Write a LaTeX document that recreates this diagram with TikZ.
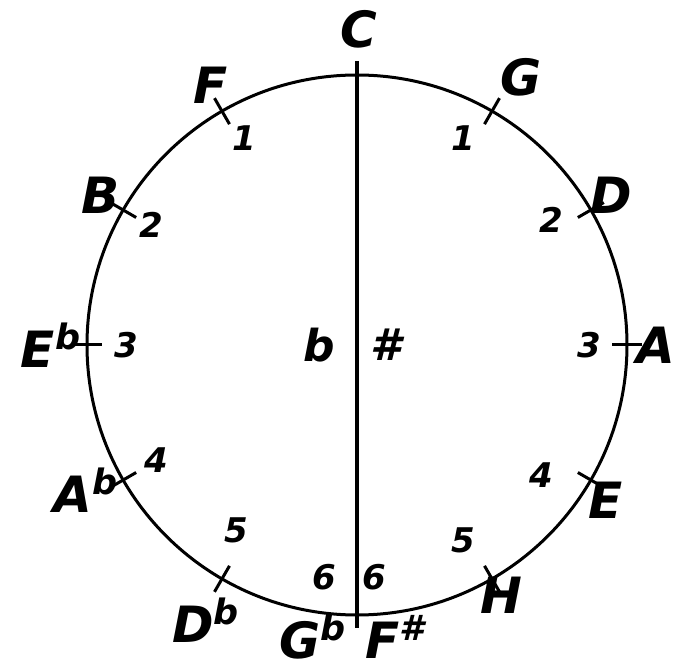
\documentclass[tikz,border=0pt]{standalone}
\usepackage{fontspec}
\setsansfont{DejaVu Sans}
\usepackage{tikz}

\begin{document}
\begin{tikzpicture}[
  x=0.5pt, y=0.5pt,
  ring/.style={line width=1.5pt},
  axis/.style={line width=2pt},
  tick/.style={line width=1.5pt},
  key/.style={font=\sffamily\bfseries\itshape\fontsize{25}{27}\selectfont, inner sep=0pt},
  num/.style={font=\sffamily\bfseries\itshape\fontsize{17}{19}\selectfont, inner sep=0pt},
  sign/.style={font=\sffamily\bfseries\itshape\fontsize{22}{24}\selectfont, inner sep=0pt}
]
\useasboundingbox (-357,-323) rectangle (318,345);
\draw[ring] (0,0) circle (270);
\draw[axis] (0,284) -- (0,-283);
% ticks
\draw[tick] (120:255) -- (120:285);
\draw[tick] (150:255) -- (150:285);
\draw[tick] (180:255) -- (180:285);
\draw[tick] (210:255) -- (210:285);
\draw[tick] (240:255) -- (240:285);
\draw[tick] (60:255) -- (60:285);
\draw[tick] (30:255) -- (30:285);
\draw[tick] (0:255) -- (0:285);
\draw[tick] (-30:255) -- (-30:285);
\draw[tick] (-60:255) -- (-60:285);
% keys
\node[key] (c) at (2,316) {C};
\node[key] (f) at (-146,260) {F};
\node[key] (bes) at (-256,150) {B};
\node[key] (es) at (-306,0) {E\textsuperscript{b}};
\node[key] (as) at (-271,-145) {A\textsuperscript{b}};
\node[key] (des) at (-151,-275) {D\textsuperscript{b}};
\node[key] (ges) at (-44,-292) {G\textsuperscript{b}};
\node[key] (fis) at (38,-292) {F\textsuperscript{\#}};
\node[key] (g) at (164,268) {G};
\node[key] (d) at (254,150) {D};
\node[key] (a) at (299,0) {A};
\node[key] (e) at (249,-155) {E};
\node[key] (h) at (144,-250) {H};
% counts
\node[num] (f1) at (-113,207) {1};
\node[num] (b2) at (-206,120) {2};
\node[num] (es3) at (-231,0) {3};
\node[num] (as4) at (-201,-115) {4};
\node[num] (des5) at (-121,-185) {5};
\node[num] (ges6) at (-33,-232) {6};
\node[num] (g1) at (106,207) {1};
\node[num] (d2) at (194,125) {2};
\node[num] (a3) at (232,0) {3};
\node[num] (e4) at (184,-130) {4};
\node[num] (h5) at (106,-195) {5};
\node[num] (fis6) at (17,-232) {6};
% halves
\node[sign] (flat) at (-38,0) {b};
\node[sign] (sharp) at (29,0) {\#};
\end{tikzpicture}
\end{document}
